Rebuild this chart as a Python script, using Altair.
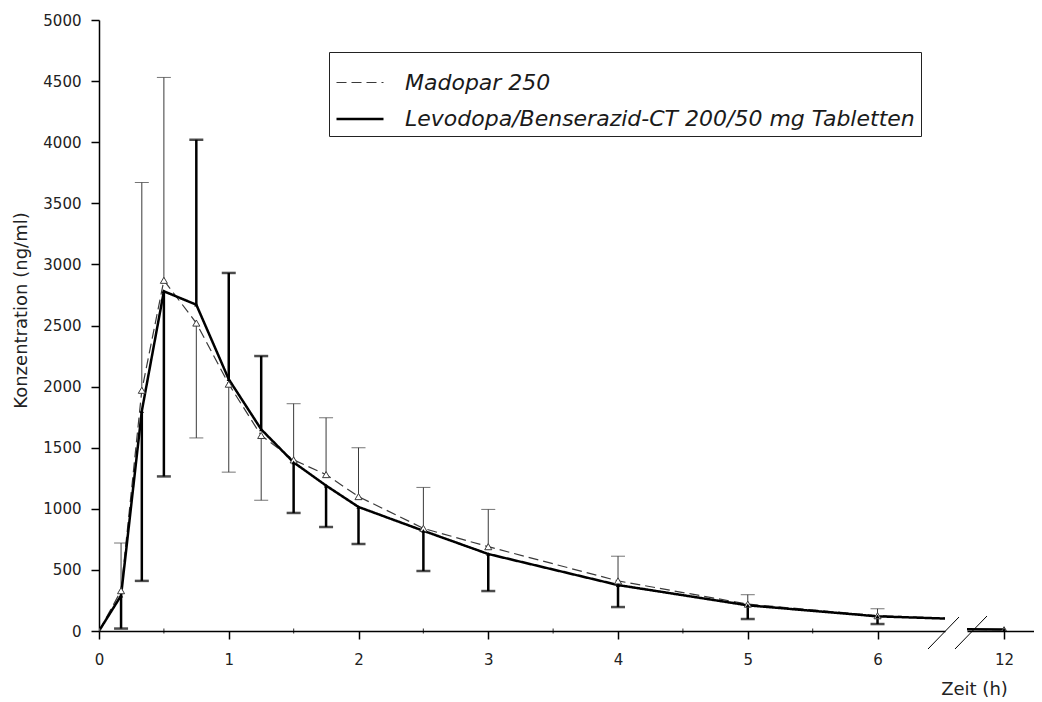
import altair as alt
import pandas as pd

# ---------------- data ----------------
hours = [0, 0.17, 0.33, 0.5, 0.75, 1.0, 1.25, 1.5, 1.75, 2.0, 2.5, 3.0, 4.0, 5.0, 6.0, 8.0, 12.0]

madopar_mean = [0, 330, 1970, 2870, 2520, 2020, 1600, 1400, 1280, 1100, 840, 690, 410, 220, 125, 50, 10]
madopar_bar = [None, 720, 3670, 4530, 1580, 1300, 1070, 1860, 1745, 1500, 1175, 995, 612, 297, 182, None, None]

levodopa_mean = [0, 290, 1800, 2780, 2670, 2060, 1650, 1380, 1190, 1015, 820, 630, 376, 210, 120, 50, 12]
levodopa_bar = [None, 20, 410, 1265, 4020, 2930, 2250, 966, 851, 712, 491, 327, 196, 98, 57, None, None]

series_names = ["Madopar 250", "Levodopa/Benserazid-CT 200/50 mg Tabletten"]

y_ticks = [0, 500, 1000, 1500, 2000, 2500, 3000, 3500, 4000, 4500, 5000]
x_ticks_left = [0, 1, 2, 3, 4, 5, 6]
x_ticks_right = [12]
minor_ticks = [0.5, 1.5, 2.5, 3.5, 4.5, 5.5]

rows = []
for name, means, bars in [(series_names[0], madopar_mean, madopar_bar),
                          (series_names[1], levodopa_mean, levodopa_bar)]:
    for t, m, b in zip(hours, means, bars):
        rows.append({"t": t, "conc": m, "bar_end": b, "series": name})
df = pd.DataFrame(rows)

FONT = "DejaVu Sans"
M_COLOR = "#3a3a3a"
L_COLOR = "#000000"

yscale = alt.Scale(domain=[0, 5000], nice=False, zero=True)
xscale_left = alt.Scale(domain=[0, 6.52], nice=False, zero=False)
xscale_right = alt.Scale(domain=[11.715, 12.23], nice=False, zero=False)

is_m = f"datum.series == '{series_names[0]}'"
is_l = f"datum.series == '{series_names[1]}'"
has_bar = "isValid(datum.bar_end)"

legend_def = alt.Legend(
    title=None, orient="none", legendX=230, legendY=32,
    strokeColor="#222", fillColor="white", padding=6,
    symbolType="stroke", symbolSize=2209,
    labelFont=FONT, labelFontSize=22, labelFontStyle="italic",
    labelColor="#1a1a1a", labelOffset=20, labelLimit=700, rowPadding=0)


def panel_layers(xscale, xaxis, yaxis, with_legend):
    base = alt.Chart(df)
    X = alt.X("t:Q", scale=xscale, axis=xaxis)
    Y = alt.Y("conc:Q", scale=yscale, axis=yaxis)
    YB = alt.Y("bar_end:Q", scale=yscale, axis=yaxis)

    m_rule = base.transform_filter(f"{is_m} && {has_bar}").mark_rule(
        color=M_COLOR, strokeWidth=1, clip=True
    ).encode(x=X, y=Y, y2="bar_end:Q")
    m_cap = base.transform_filter(f"{is_m} && {has_bar}").mark_tick(
        orient="horizontal", size=14, thickness=1, color=M_COLOR, clip=True
    ).encode(x=X, y=YB)
    l_rule = base.transform_filter(f"{is_l} && {has_bar}").mark_rule(
        color=L_COLOR, strokeWidth=2.5, clip=True
    ).encode(x=X, y=Y, y2="bar_end:Q")
    l_cap = base.transform_filter(f"{is_l} && {has_bar}").mark_tick(
        orient="horizontal", size=14, thickness=2.5, color=L_COLOR, clip=True
    ).encode(x=X, y=YB)

    if with_legend:
        lines = base.mark_line(clip=True).encode(
            x=X, y=Y,
            color=alt.Color("series:N",
                            scale=alt.Scale(domain=series_names, range=[M_COLOR, L_COLOR]),
                            legend=legend_def),
            strokeDash=alt.StrokeDash("series:N",
                                      scale=alt.Scale(domain=series_names, range=[[10, 5], [1, 0]]),
                                      legend=legend_def),
            strokeWidth=alt.StrokeWidth("series:N",
                                        scale=alt.Scale(domain=series_names, range=[1.2, 2.5]),
                                        legend=legend_def),
        )
        line_layers = [lines]
    else:
        m_line = base.transform_filter(is_m).mark_line(
            color=M_COLOR, strokeWidth=1.2, strokeDash=[10, 5], clip=True
        ).encode(x=X, y=Y)
        l_line = base.transform_filter(is_l).mark_line(
            color=L_COLOR, strokeWidth=2.5, clip=True
        ).encode(x=X, y=Y)
        line_layers = [m_line, l_line]

    m_pts = base.transform_filter(is_m).mark_point(
        shape="triangle-up", filled=True, fill="white", stroke=M_COLOR,
        strokeWidth=1, size=50, opacity=1, clip=True
    ).encode(x=X, y=Y)
    l_pts = base.transform_filter(is_l).mark_point(
        shape="triangle-up", filled=True, color=L_COLOR, size=18, opacity=1, clip=True
    ).encode(x=X, y=Y)

    return [m_rule, m_cap, l_rule, l_cap] + line_layers + [m_pts, l_pts]


dummy = pd.DataFrame({"k": [0]})

# minor ticks on the left x axis
minor = alt.Chart(pd.DataFrame({"m": minor_ticks})).mark_tick(
    orient="vertical", size=5, thickness=1.2, color="black"
).encode(x=alt.X("m:Q", scale=xscale_left), y=alt.value(611))

# axis-break slashes (decoration)
slash_left = alt.Chart(dummy).mark_rule(color="black", strokeWidth=1).encode(
    x=alt.value(829), x2=alt.value(860), y=alt.value(629), y2=alt.value(597))
slash_right = alt.Chart(dummy).mark_rule(color="black", strokeWidth=1).encode(
    x=alt.value(-12), x2=alt.value(20), y=alt.value(629), y2=alt.value(596))

left_xaxis = alt.Axis(values=x_ticks_left, format="d", title=None, labelPadding=13)
left_yaxis = alt.Axis(values=y_ticks, format="d", title="Konzentration (ng/ml)",
                      labelPadding=10, titlePadding=12, titleY=290)
right_xaxis = alt.Axis(values=x_ticks_right, format="d", title="Zeit (h)", labelPadding=13,
                       titleX=7, titleY=58, titleAlign="center", titleBaseline="middle")

left = alt.layer(*panel_layers(xscale_left, left_xaxis, left_yaxis, True), minor, slash_left
                 ).properties(width=846, height=611)
right = alt.layer(*panel_layers(xscale_right, right_xaxis, None, False), slash_right
                  ).properties(width=67, height=611)

chart = alt.hconcat(left, right, spacing=22, bounds="flush").resolve_scale(
    x="independent", y="shared"
).properties(
    padding={"left": 4, "top": 5, "right": 0, "bottom": 0},
    background="white"
).configure_axis(
    domainColor="black", domainWidth=1.5, tickColor="black", tickWidth=1.5, tickSize=8,
    labelFont=FONT, labelFontSize=15, labelColor="#222", labelFlush=False,
    titleFont=FONT, titleFontSize=18, titleFontWeight="normal", titleColor="#222",
    grid=False
).configure_view(stroke=None)

chart.save("out.html", embed_options={"renderer": "svg", "actions": False})
